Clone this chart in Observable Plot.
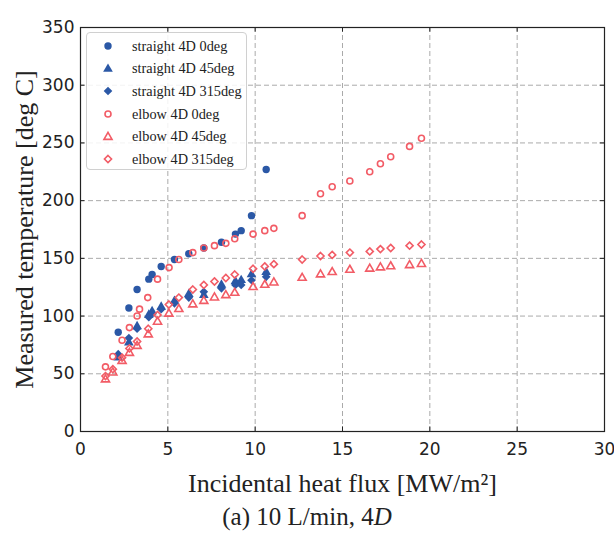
<!DOCTYPE html>
<html>
<head>
<meta charset="utf-8">
<script src="https://cdn.jsdelivr.net/npm/d3@7"></script>
<script src="https://cdn.jsdelivr.net/npm/@observablehq/plot@0.6"></script>
<style>
  html, body { margin: 0; padding: 0; background: #fff; }
  #wrap { position: relative; width: 614px; height: 541px; overflow: hidden; }
  #legend { position: absolute; left: 86px; top: 32px; width: 161px; height: 138px;
            border: 1px solid #d0d0d0; border-radius: 4px; background: rgba(255,255,255,0.85);
            box-sizing: border-box; padding-top: 2px; }
  .row { height: 22.6px; display: flex; align-items: center; font-family: "Liberation Serif", serif;
         font-size: 14.3px; color: #222; white-space: nowrap; }
  .row svg { margin-left: 14px; margin-right: 17px; flex: none; }
  #caption { position: absolute; left: 0; width: 614px; top: 503px; text-align: center;
             font-family: "Liberation Serif", serif; font-size: 25px; color: #222; }
</style>
</head>
<body>
<div id="wrap"></div>
<script>
const xTicks = [0, 5, 10, 15, 20, 25, 30];
const yTicks = [0, 50, 100, 150, 200, 250, 300, 350];

const seriesNames = ["straight 4D 0deg", "straight 4D 45deg", "straight 4D 315deg",
                     "elbow 4D 0deg", "elbow 4D 45deg", "elbow 4D 315deg"];

const straightFlux = [2.16, 2.77, 3.24, 3.91, 4.1, 4.62, 5.38, 6.2, 7.06, 8.07, 8.87, 9.2, 9.79, 10.63];
const straight0   = [86, 107, 123, 132, 136, 143, 149, 154, 159, 164, 171, 174, 187, 227];
const straight45  = [64, 77, 91, 101, 104, 108, 113, 119, 118, 127, 130, 131, 136, 138];
const straight315 = [67, 81, 89, 99, 102, 106, 111, 116, 121, 124, 127, 127, 131, 134];

const elbow0Flux = [1.43, 1.85, 2.38, 2.8, 3.24, 3.38, 3.85, 4.41, 5.07, 5.63, 6.43, 7.06, 7.67, 8.32, 8.83,
                    9.88, 10.55, 11.07, 12.69, 13.74, 14.41, 15.42, 16.56, 17.17, 17.76, 18.84, 19.52];
const elbow0 = [56, 65, 79, 90, 100, 106, 116, 132, 142, 149, 155, 159, 161, 163, 167,
                171, 174, 176, 187, 206, 212, 217, 225, 232, 238, 247, 254];

const elbowFlux = [1.43, 1.85, 2.38, 2.8, 3.24, 3.88, 4.41, 5.06, 5.63, 6.43, 7.06, 7.67, 8.32, 8.83,
                   9.88, 10.55, 11.07, 12.69, 13.74, 14.41, 15.42, 16.56, 17.17, 17.76, 18.84, 19.52];
const elbow45  = [45, 51, 61, 68, 74, 84, 95, 102, 106, 110, 113, 116, 118, 120,
                  125, 127, 129, 133, 136, 138, 140, 141, 142, 143, 144, 145];
const elbow315 = [48, 54, 64, 72, 78, 89, 101, 110, 116, 123, 127, 130, 133, 136,
                  141, 143, 145, 149, 152, 153, 155, 156, 158, 159, 161, 162];

const BLUE = "#2b58a6";
const RED = "#f25c66";

const pts = (xs, ys) => xs.map((x, i) => ({x, y: ys[i]}));

const styles = [
  {symbol: "circle",   fill: BLUE, stroke: "none", r: 3.7, strokeWidth: 0},
  {symbol: "triangle", fill: BLUE, stroke: "none", r: 3.6, strokeWidth: 0},
  {symbol: "diamond2", fill: BLUE, stroke: "none", r: 3.9, strokeWidth: 0},
  {symbol: "circle",   fill: "none", stroke: RED, r: 3.0, strokeWidth: 1.6},
  {symbol: "triangle", fill: "none", stroke: RED, r: 3.0, strokeWidth: 1.6},
  {symbol: "diamond2", fill: "none", stroke: RED, r: 3.2, strokeWidth: 1.6}
];
const datasets = [
  pts(straightFlux, straight0), pts(straightFlux, straight45), pts(straightFlux, straight315),
  pts(elbow0Flux, elbow0), pts(elbowFlux, elbow45), pts(elbowFlux, elbow315)
];

const tickFont = "DejaVu Sans, sans-serif";
const serif = "Liberation Serif, serif";

const chart = Plot.plot({
  width: 614,
  height: 500,
  marginLeft: 80,
  marginRight: 10,
  marginTop: 27,
  marginBottom: 69,
  style: {background: "white", overflow: "visible", color: "#222"},
  x: {domain: [0, 30]},
  y: {domain: [0, 350]},
  marks: [
    Plot.ruleX(xTicks.slice(1, -1), {x: d => d, stroke: "#aaaaaa", strokeDasharray: "5,3", strokeWidth: 1}),
    Plot.ruleY(yTicks.slice(1, -1), {y: d => d, stroke: "#aaaaaa", strokeDasharray: "5,3", strokeWidth: 1}),
    // inward ticks
    Plot.ruleX(xTicks, {x: d => d, y1: 0, y2: 4, stroke: "#222"}),
    Plot.ruleX(xTicks, {x: d => d, y1: 346, y2: 350, stroke: "#222"}),
    Plot.ruleY(yTicks, {y: d => d, x1: 0, x2: 0.25, stroke: "#222"}),
    Plot.ruleY(yTicks, {y: d => d, x1: 29.75, x2: 30, stroke: "#222"}),
    Plot.axisX(xTicks, {tickSize: 0, tickPadding: 11, fontSize: 17, fontFamily: tickFont, label: null}),
    Plot.axisY(yTicks, {tickSize: 0, tickPadding: 6, fontSize: 17, fontFamily: tickFont, label: null}),
    ...datasets.map((d, i) => Plot.dot(d, {x: "x", y: "y", ...styles[i]})),
    Plot.frame({stroke: "#222", strokeWidth: 1.2}),
    Plot.text(["Incidental heat flux [MW/m²]"], {frameAnchor: "bottom", dy: 52, fontSize: 26, fontFamily: serif, fill: "#222", lineAnchor: "middle"}),
    Plot.text(["Measured temperature [deg C]"], {frameAnchor: "left", dx: -56, rotate: -90, textAnchor: "middle", lineAnchor: "middle", fontSize: 26, fontFamily: serif, fill: "#222"})
  ]
});

const wrap = document.getElementById("wrap");
wrap.appendChild(chart);

// legend
const legend = document.createElement("div");
legend.id = "legend";
seriesNames.forEach((name, i) => {
  const s = styles[i];
  const row = document.createElement("div");
  row.className = "row";
  const sym = {circle: d3.symbolCircle, triangle: d3.symbolTriangle, diamond2: d3.symbolDiamond2}[s.symbol];
  const path = d3.symbol(sym, Math.PI * s.r * s.r)();
  row.innerHTML = `<svg width="14" height="14" viewBox="-7 -7 14 14"><path d="${path}" fill="${s.fill}" stroke="${s.stroke}" stroke-width="${s.strokeWidth}"/></svg><span>${name}</span>`;
  legend.appendChild(row);
});
wrap.appendChild(legend);

const cap = document.createElement("div");
cap.id = "caption";
cap.innerHTML = "(a) 10 L/min, 4<i>D</i>";
wrap.appendChild(cap);
</script>
</body>
</html>
